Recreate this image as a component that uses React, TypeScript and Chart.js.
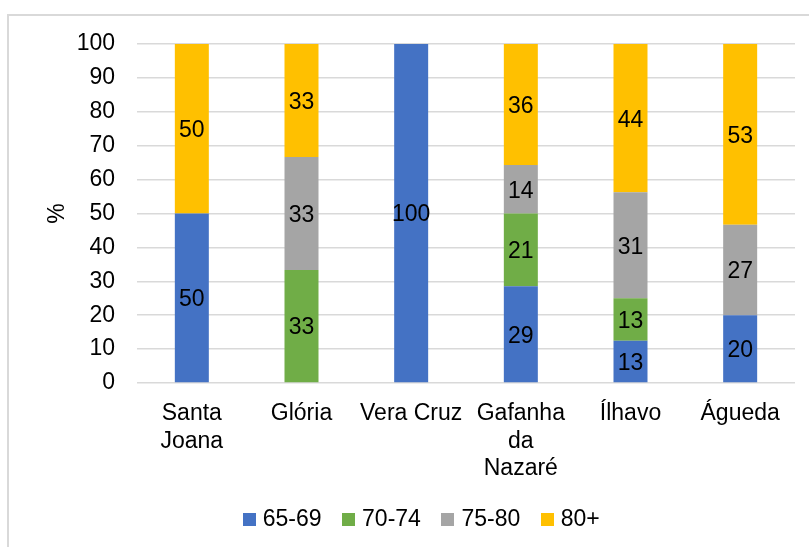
import React, { useEffect, useRef } from "react";
import { Chart, registerables } from "chart.js";

Chart.register(...registerables);

const categories: (string | string[])[] = [
  ["Santa", "Joana"],
  "Glória",
  "Vera Cruz",
  ["Gafanha", "da", "Nazaré"],
  "Ílhavo",
  "Águeda",
];
const seriesNames = ["65-69", "70-74", "75-80", "80+"];
const colors = ["#4472C4", "#70AD47", "#A5A5A5", "#FFC000"];
const v65_69 = [50, 0, 100, 28.57, 12.5, 20];
const v70_74 = [0, 33.33, 0, 21.43, 12.5, 0];
const v75_80 = [0, 33.33, 0, 14.29, 31.25, 26.67];
const v80plus = [50, 33.34, 0, 35.71, 43.75, 53.33];
const yTicks = [0, 10, 20, 30, 40, 50, 60, 70, 80, 90, 100];

const FONT = "'Liberation Sans', Arial, sans-serif";

const labelPlugin = {
  id: "segLabels",
  afterDatasetsDraw(chart: any) {
    const ctx = chart.ctx;
    ctx.save();
    ctx.font = `23px ${FONT}`;
    ctx.fillStyle = "#000";
    ctx.textAlign = "center";
    ctx.textBaseline = "middle";
    chart.data.datasets.forEach((ds: any, i: number) => {
      const meta = chart.getDatasetMeta(i);
      meta.data.forEach((bar: any, j: number) => {
        const v = ds.data[j];
        if (!v) return;
        const yc = (bar.y + bar.base) / 2 + 2;
        ctx.fillText(String(Math.round(v)), bar.x, yc);
      });
    });
    ctx.restore();
  },
};

function makeSwatch(color: string) {
  const c = document.createElement("canvas");
  c.width = 13;
  c.height = 13;
  const g = c.getContext("2d")!;
  g.fillStyle = color;
  g.fillRect(0, 0, 13, 13);
  return c;
}

export default function App() {
  const ref = useRef<HTMLCanvasElement>(null);
  useEffect(() => {
    const data = [v65_69, v70_74, v75_80, v80plus];
    const swatches = colors.map(makeSwatch);
    const chart = new Chart(ref.current!, {
      type: "bar",
      data: {
        labels: categories,
        datasets: seriesNames.map((n, i) => ({
          label: n,
          data: data[i],
          backgroundColor: colors[i],
          borderWidth: 0,
          categoryPercentage: 1,
          barPercentage: 0.31,
        })),
      },
      options: {
        responsive: false,
        animation: false,
        devicePixelRatio: 1,
        layout: { padding: { top: 44, right: 14, left: 52, bottom: 6 } },
        plugins: {
          tooltip: { enabled: false },
          legend: {
            position: "bottom",
            labels: {
              usePointStyle: true,
              pointStyleWidth: 4,
              boxWidth: 13,
              boxHeight: 13,
              padding: 25,
              color: "#000",
              font: { family: FONT, size: 23 },
              generateLabels: (ch: any) =>
                ch.data.datasets.map((ds: any, i: number) => ({
                  text: ds.label,
                  fillStyle: colors[i],
                  strokeStyle: colors[i],
                  lineWidth: 0,
                  pointStyle: swatches[i],
                  hidden: false,
                  datasetIndex: i,
                  fontColor: "#000",
                })),
            },
          },
        },
        scales: {
          x: {
            stacked: true,
            grid: { display: false, drawTicks: false },
            border: { display: false },
            ticks: {
              color: "#000",
              font: { family: FONT, size: 23, lineHeight: 1.2 },
              padding: 17,
              maxRotation: 0,
              autoSkip: false,
            },
            afterFit: (s: any) => {
              s.height = 100;
            },
          },
          y: {
            stacked: true,
            min: 0,
            max: 100,
            afterBuildTicks: (s: any) => {
              s.ticks = yTicks.map((v) => ({ value: v }));
            },
            grid: { color: "#d9d9d9", lineWidth: 1.5, drawTicks: false },
            border: { display: false },
            ticks: {
              color: "#000",
              font: { family: FONT, size: 23 },
              padding: 22,
            },
            title: {
              display: true,
              text: "%",
              color: "#000",
              font: { family: FONT, size: 23, lineHeight: 0.45 },
              padding: { top: 0, bottom: 0 },
            },
            afterFit: (s: any) => {
              s.width = 85;
            },
          },
        },
      },
      plugins: [labelPlugin],
    });
    return () => chart.destroy();
  }, []);
  return (
    <div style={{ position: "fixed", left: 0, top: 0, width: 809, height: 547, overflow: "hidden", background: "#fff" }}>
      <div
        style={{
          position: "absolute",
          left: 7,
          top: 14,
          width: 840,
          height: 580,
          border: "2px solid #d9d9d9",
        }}
      />
      <canvas ref={ref} width={809} height={547} style={{ position: "absolute", left: 0, top: 0 }} />
    </div>
  );
}
